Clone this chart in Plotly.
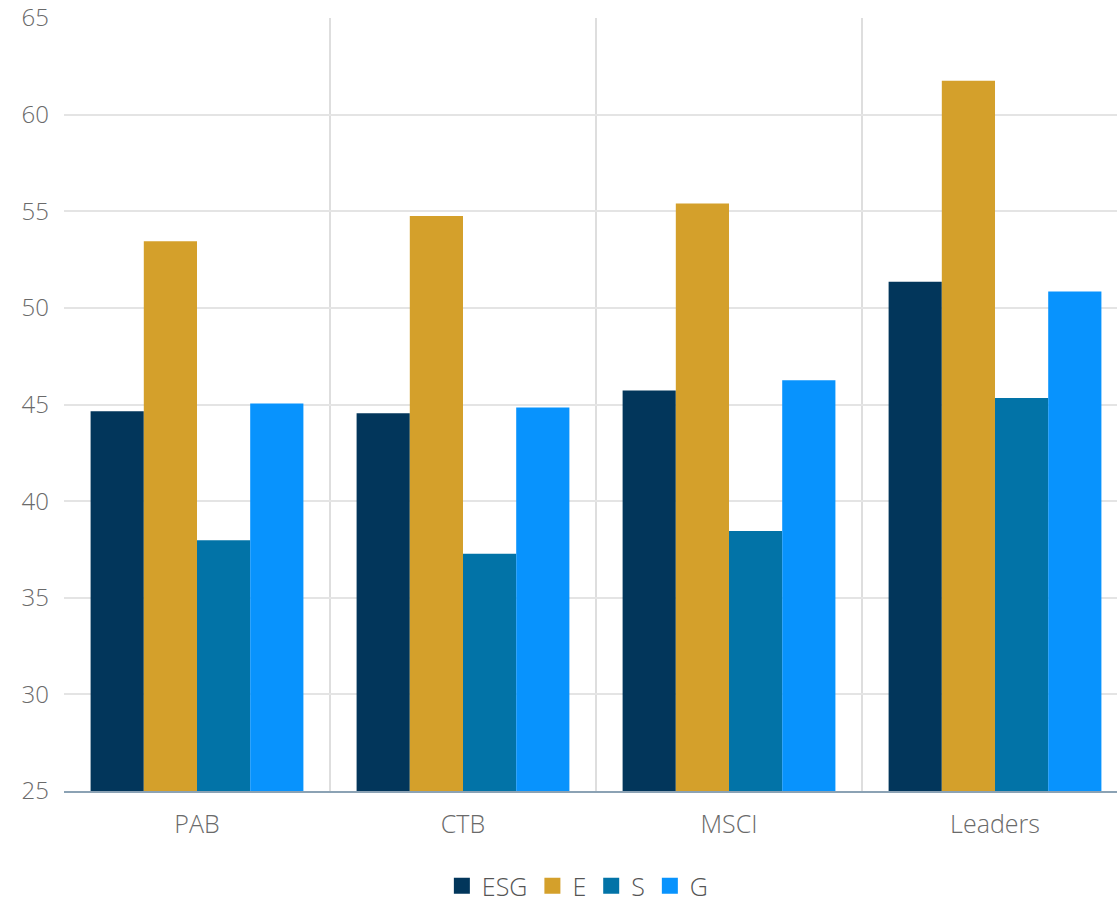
import plotly.graph_objects as go

# Benchmarks and pillar scores
categories = ["PAB", "CTB", "MSCI", "Leaders"]
esg = [44.65, 44.55, 45.72, 51.35]
e_scores = [53.45, 54.75, 55.4, 61.75]
s_scores = [37.97, 37.28, 38.45, 45.33]
g_scores = [45.05, 44.85, 46.25, 50.85]

series = [
    ("ESG", esg, "#02365B"),
    ("E", e_scores, "#D4A02B"),
    ("S", s_scores, "#0273A7"),
    ("G", g_scores, "#0893FD"),
]

fig = go.Figure()
for name, vals, color in series:
    fig.add_trace(go.Bar(
        name=name, x=categories, y=vals, marker_color=color,
        marker_line_width=0, showlegend=False,
    ))
    # square legend key
    fig.add_trace(go.Scatter(
        name=name, x=[None], y=[None], mode="markers",
        marker=dict(symbol="square", size=17, color=color),
        showlegend=True,
    ))

font_family = "'Open Sans', Lato, sans-serif"
tick_font = dict(family=font_family, size=24, color="#6a6a6a", weight=300)

fig.update_layout(
    width=1117, height=902,
    margin=dict(l=64, r=0, t=18, b=111, autoexpand=False),
    paper_bgcolor="white", plot_bgcolor="white",
    barmode="group", bargap=0.2, bargroupgap=0,
    font=dict(family=font_family, size=24, color="#666666"),
    showlegend=True,
    legend=dict(
        orientation="h", x=0.488, xanchor="center", y=-0.123, yanchor="middle",
        font=dict(family=font_family, size=25, color="#555555", weight=300),
        itemwidth=30, traceorder="normal",
    ),
    xaxis=dict(
        type="category",
        range=[-0.5, 3.4586],
        tickson="boundaries", ticklen=0,
        showgrid=True, gridcolor="#dedede", gridwidth=1.5,
        showline=True, linecolor="#8ba2b4", linewidth=2,
        tickfont=dict(family=font_family, size=25, color="#6a6a6a", weight=300),
        ticklabelstandoff=10,
    ),
    yaxis=dict(
        range=[25, 65], dtick=5, tick0=25,
        showgrid=True, gridcolor="#e4e4e4", gridwidth=1.5,
        zeroline=False, showline=False, ticks="",
        tickfont=tick_font, ticklabeloverflow="allow",
        ticklabelstandoff=14,
    ),
)

fig.write_html("out.html")
